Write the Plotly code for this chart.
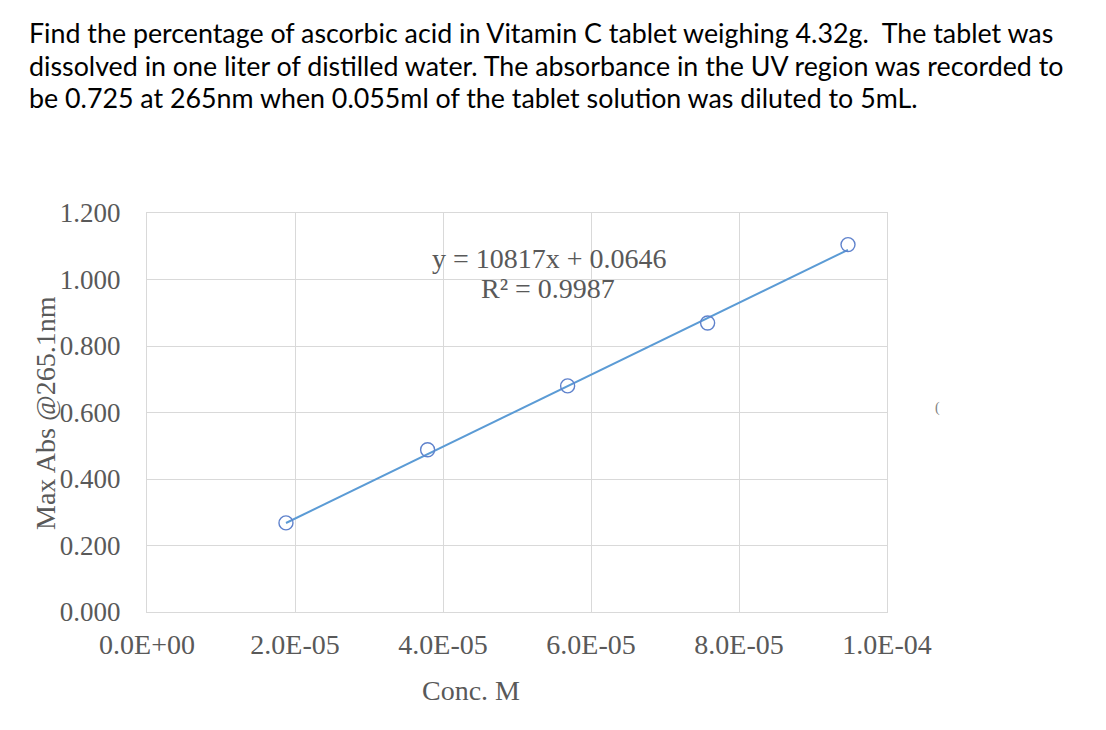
import plotly.graph_objects as go

# ---- data ----
conc = [1.878e-5, 3.792e-5, 5.684e-5, 7.576e-5, 9.473e-5]
absorb = [0.268, 0.488, 0.680, 0.869, 1.105]
slope = 10817
intercept = 0.0646
r2 = 0.9987
x_tickvals = [0, 2e-5, 4e-5, 6e-5, 8e-5, 1e-4]
x_ticktext = ["0.0E+00", "2.0E-05", "4.0E-05", "6.0E-05", "8.0E-05", "1.0E-04"]
y_tickvals = [0, 0.2, 0.4, 0.6, 0.8, 1.0, 1.2]
question_lines = [
    "Find the percentage of ascorbic acid in Vitamin C tablet weighing 4.32g.\u00a0 The tablet was",
    "dissolved in one liter of distilled water. The absorbance in the UV region was recorded to",
    "be 0.725 at 265nm when 0.055ml of the tablet solution was diluted to 5mL.",
]

OFF = 8  # page body margin
W, H = 1106 - OFF, 730 - OFF
# plot area in window pixels
L, R, T, B = 147, 887, 213, 612


def px(xp):
    return (xp - L) / (R - L)


def py(yp):
    return (B - yp) / (B - T)


trend_x = [min(conc), max(conc)]
trend_y = [slope * v + intercept for v in trend_x]

fig = go.Figure()
fig.add_trace(go.Scatter(
    x=trend_x, y=trend_y, mode="lines",
    line=dict(color="#5b9bd5", width=2), hoverinfo="skip", showlegend=False))
fig.add_trace(go.Scatter(
    x=conc, y=absorb, mode="markers",
    marker=dict(symbol="circle-open", size=14, color="#5f82cc", line=dict(width=1.4)),
    showlegend=False))

serif = "Liberation Serif, Times New Roman, serif"
grey = "#595959"

fig.update_layout(
    width=W, height=H,
    margin=dict(l=L - OFF, r=1106 - R, t=T - OFF, b=730 - B, pad=0),
    paper_bgcolor="white", plot_bgcolor="white",
    xaxis=dict(range=[0, 1e-4], tickvals=x_tickvals, ticktext=x_ticktext,
               showgrid=True, gridcolor="#d9d9d9", gridwidth=1,
               showline=True, linecolor="#d9d9d9", linewidth=1, mirror=True,
               zeroline=False, ticks="", ticklabelstandoff=7,
               tickfont=dict(family=serif, size=28, color=grey)),
    yaxis=dict(range=[0, 1.2], tickvals=y_tickvals, tickformat=".3f",
               showgrid=True, gridcolor="#d9d9d9", gridwidth=1,
               showline=True, linecolor="#d9d9d9", linewidth=1, mirror=True,
               zeroline=False, ticks="", ticklabelstandoff=20,
               tickfont=dict(family=serif, size=27, color=grey)),
)

annotations = []
for i, line in enumerate(question_lines):
    annotations.append(dict(
        text=line, xref="paper", yref="paper", x=px(27), y=py(33 + 32.5 * i),
        xanchor="left", yanchor="middle", showarrow=False,
        font=dict(family="Lato, sans-serif", size=26.8, color="#000000")))
annotations.append(dict(
    text=f"y = {slope}x + {intercept}", xref="paper", yref="paper",
    x=px(549), y=py(258), xanchor="center", yanchor="middle", showarrow=False,
    font=dict(family=serif, size=28, color=grey)))
annotations.append(dict(
    text=f"R² = {r2}", xref="paper", yref="paper",
    x=px(548), y=py(288), xanchor="center", yanchor="middle", showarrow=False,
    font=dict(family=serif, size=28, color=grey)))
annotations.append(dict(
    text="Conc. M", xref="paper", yref="paper",
    x=px(471), y=py(690), xanchor="center", yanchor="middle", showarrow=False,
    font=dict(family=serif, size=28, color=grey)))
annotations.append(dict(
    text="Max Abs @265.1nm", xref="paper", yref="paper", textangle=-90,
    x=px(45), y=py(413), xanchor="center", yanchor="middle", showarrow=False,
    font=dict(family=serif, size=28, color=grey)))
annotations.append(dict(
    text="(", xref="paper", yref="paper",
    x=px(937), y=py(408), xanchor="center", yanchor="middle", showarrow=False,
    font=dict(family=serif, size=14, color="#808080")))
fig.update_layout(annotations=annotations)

fig.write_html("out.html")
